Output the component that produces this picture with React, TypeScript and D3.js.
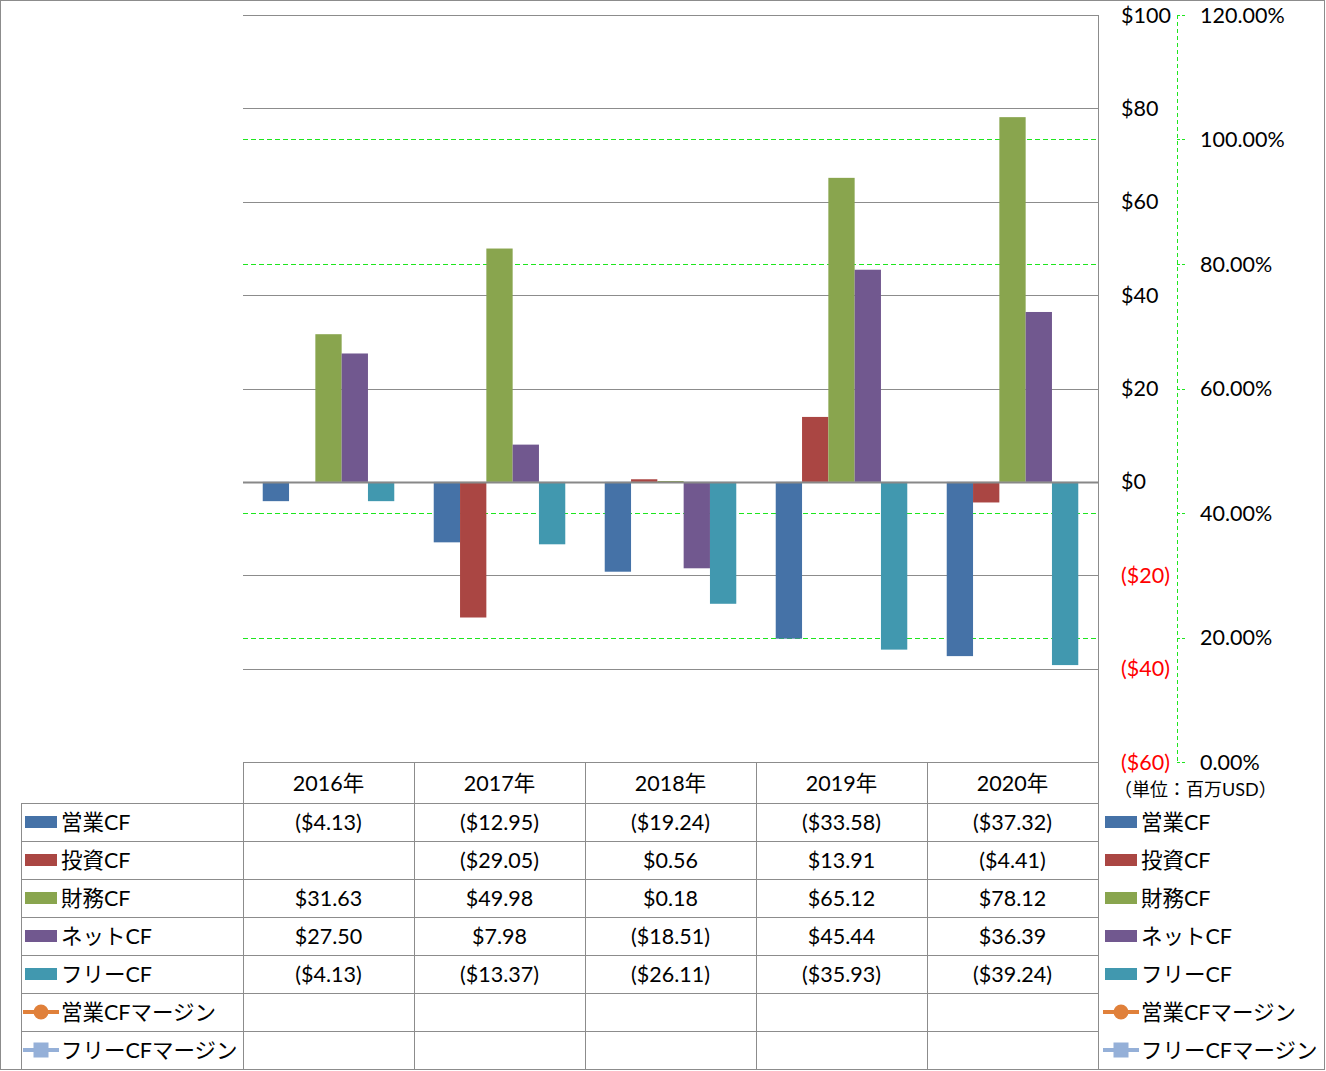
import React from "react";
import * as d3 from "d3";

const years = ["2016年", "2017年", "2018年", "2019年", "2020年"];
const seriesNames = ["営業CF", "投資CF", "財務CF", "ネットCF", "フリーCF"];
const seriesColors = ["#4572A7", "#AA4643", "#89A54E", "#71588F", "#4198AF"];
const opCF = [-4.13, -12.95, -19.24, -33.58, -37.32];
const invCF: (number | null)[] = [null, -29.05, 0.56, 13.91, -4.41];
const finCF = [31.63, 49.98, 0.18, 65.12, 78.12];
const netCF = [27.5, 7.98, -18.51, 45.44, 36.39];
const freeCF = [-4.13, -13.37, -26.11, -35.93, -39.24];
const seriesValues: (number | null)[][] = [opCF, invCF, finCF, netCF, freeCF];
const lineNames = ["営業CFマージン", "フリーCFマージン"];
const lineColors = ["#E0803A", "#95B0D8"];
const leftTicks = [-60, -40, -20, 0, 20, 40, 60, 80, 100];
const rightTicks = [0, 0.2, 0.4, 0.6, 0.8, 1.0, 1.2];

const FONT = "Lato, 'Noto Sans CJK JP', sans-serif";
const GRID = "#8c8c8c";
const LIME = "#1ee61e";

function fmtMoney(v: number | null) {
  if (v === null) return "";
  const s = "$" + Math.abs(v).toFixed(2);
  return v < 0 ? "(" + s + ")" : s;
}
function fmtTick(v: number) {
  return v < 0 ? "($" + Math.abs(v) + ")" : "$" + v;
}

export default function App() {
  const plotL = 243, plotR = 1098, plotT = 15, plotB = 762;
  const y = d3.scaleLinear().domain([-60, 100]).range([plotB, plotT]);
  const y2 = d3.scaleLinear().domain([0, 1.2]).range([plotB, plotT]);
  const x = d3.scaleBand().domain(years).range([plotL, plotR]).padding(0);
  const xi = d3.scaleBand().domain(seriesNames).range([0, x.bandwidth()]).paddingInner(0).paddingOuter(0.75);

  const tableL = 21;
  const headerH = 41;
  const rowH = 38;
  const rowTop = plotB + headerH;
  const rowNames = [...seriesNames, ...lineNames];
  const nRows = rowNames.length;
  const tableB = rowTop + nRows * rowH;
  const axis2X = 1177;

  const legendMarker = (i: number, cx: number, cy: number) => {
    if (i < 5) {
      return <rect x={cx} y={cy - 6} width={32} height={12} fill={seriesColors[i]} />;
    }
    const c = lineColors[i - 5];
    return (
      <g>
        <line x1={cx - 2} x2={cx + 34} y1={cy} y2={cy} stroke={c} strokeWidth={4} />
        {i === 5 ? (
          <circle cx={cx + 16} cy={cy} r={7.5} fill={c} />
        ) : (
          <rect x={cx + 8.5} y={cy - 7.5} width={15} height={15} fill={c} />
        )}
      </g>
    );
  };

  return (
    <svg width={1326} height={1071} style={{ position: "absolute", left: 0, top: 0 }} fontFamily={FONT}>
      <rect x={0} y={0} width={1326} height={1071} fill="#fff" />
      {/* secondary gridlines */}
      {rightTicks.filter(t => t > 0 && t < 1.2 && Math.abs(t - 0.6) > 1e-6).map(t => (
        <line key={"g2" + t} x1={plotL} x2={plotR} y1={Math.round(y2(t)) + 0.5} y2={Math.round(y2(t)) + 0.5} stroke={LIME} strokeWidth={1} strokeDasharray="5,3" />
      ))}
      {/* primary gridlines */}
      {leftTicks.filter(t => t > -60).map(t => (
        <line key={"g" + t} x1={plotL} x2={plotR} y1={Math.round(y(t)) + 0.5} y2={Math.round(y(t)) + 0.5} stroke={GRID} strokeWidth={1} />
      ))}
      {/* bars */}
      {years.map((yr, gi) => (
        <g key={yr} transform={`translate(${x(yr)},0)`}>
          {seriesNames.map((s, si) => {
            const v = seriesValues[si][gi];
            if (v === null) return null;
            const y0 = y(0), y1 = y(v);
            return (
              <rect key={s} x={xi(s)} width={xi.bandwidth()} y={Math.min(y0, y1)} height={Math.max(1, Math.abs(y1 - y0))} fill={seriesColors[si]} />
            );
          })}
        </g>
      ))}
      {/* zero line on top */}
      <line x1={plotL} x2={plotR} y1={Math.round(y(0)) + 0.5} y2={Math.round(y(0)) + 0.5} stroke="#888" strokeWidth={2} />
      {/* primary axis line */}
      <line x1={plotR + 0.5} x2={plotR + 0.5} y1={plotT} y2={tableB} stroke={GRID} />
      {leftTicks.map(t => (
        <text key={"l" + t} x={1121} y={y(t)} dy="0.35em" fontSize={21.5} fill={t < 0 ? "#ff0000" : "#000"}>{fmtTick(t)}</text>
      ))}
      {/* secondary axis */}
      <line x1={axis2X + 0.5} x2={axis2X + 0.5} y1={plotT} y2={plotB} stroke={LIME} strokeDasharray="4,3" />
      {rightTicks.map(t => (
        <g key={"r" + t}>
          <line x1={axis2X} x2={axis2X + 8} y1={Math.round(y2(t)) + 0.5} y2={Math.round(y2(t)) + 0.5} stroke={LIME} strokeDasharray="3,2" />
          <text x={1200} y={y2(t)} dy="0.35em" fontSize={21.5} fill="#000">{(t * 100).toFixed(2) + "%"}</text>
        </g>
      ))}
      <text x={1114} y={790} dy="0.35em" fontSize={18} fill="#000">（単位：百万USD）</text>
      {/* table grid */}
      <g stroke={GRID} strokeWidth={1}>
        <line x1={plotL} x2={plotR} y1={plotB + 0.5} y2={plotB + 0.5} />
        {d3.range(nRows + 1).map(r => (
          <line key={"h" + r} x1={tableL} x2={plotR} y1={rowTop + r * rowH + 0.5} y2={rowTop + r * rowH + 0.5} />
        ))}
        <line x1={tableL + 0.5} x2={tableL + 0.5} y1={rowTop} y2={tableB} />
        {years.map(yr => (
          <line key={"v" + yr} x1={Math.round(x(yr)!) + 0.5} x2={Math.round(x(yr)!) + 0.5} y1={plotB} y2={tableB} />
        ))}
      </g>
      {years.map(yr => (
        <text key={"hy" + yr} x={x(yr)! + x.bandwidth() / 2} y={plotB + headerH / 2 + 1} dy="0.35em" textAnchor="middle" fontSize={21.5}>{yr}</text>
      ))}
      {rowNames.map((name, ri) => {
        const cy = rowTop + ri * rowH + rowH / 2;
        return (
          <g key={"row" + ri}>
            {legendMarker(ri, 25, cy)}
            <text x={61} y={cy} dy="0.35em" fontSize={21.5}>{name}</text>
            {legendMarker(ri, 1105, cy)}
            <text x={1141} y={cy} dy="0.35em" fontSize={21.5}>{name}</text>
            {ri < 5 && years.map((yr, gi) => (
              <text key={yr} x={x(yr)! + x.bandwidth() / 2} y={cy} dy="0.35em" textAnchor="middle" fontSize={21.5}>{fmtMoney(seriesValues[ri][gi])}</text>
            ))}
          </g>
        );
      })}
      {/* outer border */}
      <rect x={0.5} y={0.5} width={1324} height={1069} fill="none" stroke="#8c8c8c" />
    </svg>
  );
}
